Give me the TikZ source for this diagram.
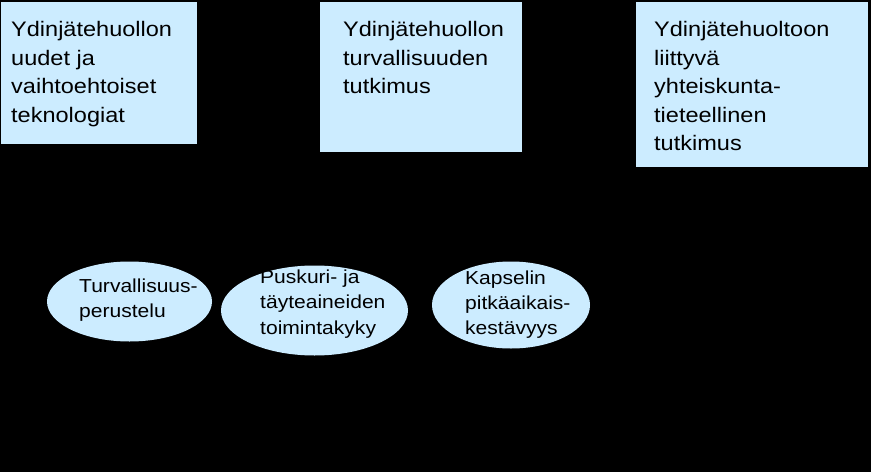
\documentclass[tikz,border=0pt]{standalone}
\usepackage{fontspec}
\setmainfont[FakeStretch=1.12]{Liberation Sans}
\definecolor{paleblue}{HTML}{CCECFF}
\tikzset{
  boxfill/.style={fill=paleblue, draw=none},
  ovalfill/.style={fill=paleblue, draw=none},
  boxtext/.style={anchor=base west, align=left, inner sep=0pt, font=\fontsize{21}{28.5}\selectfont},
  ovaltext/.style={anchor=base west, align=left, inner sep=0pt, font=\fontsize{18.8}{25.3}\selectfont},
}
\begin{document}
\begin{tikzpicture}[x=1pt,y=-1pt]
\fill[black] (0,0) rectangle (871,472);
\useasboundingbox (0,0) rectangle (871,472);
% boxes
\fill[boxfill] (1,2) rectangle (197,144);
\fill[boxfill] (320,2) rectangle (522,152);
\fill[boxfill] (636,2) rectangle (868,167);
% text nodes anchored at the baseline of their last line
\node[boxtext] (t1) at (11,122.2) {Ydinjätehuollon\\uudet ja\\vaihtoehtoiset\\teknologiat};
\node[boxtext] (t2) at (343,93.7) {Ydinjätehuollon\\turvallisuuden\\tutkimus};
\node[boxtext] (t3) at (654,150.7) {Ydinjätehuoltoon\\liittyvä\\yhteiskunta-\\tieteellinen\\tutkimus};
% ellipses
\fill[ovalfill] (129.5,301.5) ellipse [x radius=82.5, y radius=40];
\fill[ovalfill] (314.5,310.5) ellipse [x radius=93.5, y radius=45];
\fill[ovalfill] (511,305) ellipse [x radius=79, y radius=43.5];
\node[ovaltext] (e1) at (79,317.3) {Turvallisuus-\\perustelu};
\node[ovaltext] (e2) at (260,334.1) {Puskuri- ja\\täyteaineiden\\toimintakyky};
\node[ovaltext] (e3) at (465,334.6) {Kapselin\\pitkäaikais-\\kestävyys};
\end{tikzpicture}
\end{document}
